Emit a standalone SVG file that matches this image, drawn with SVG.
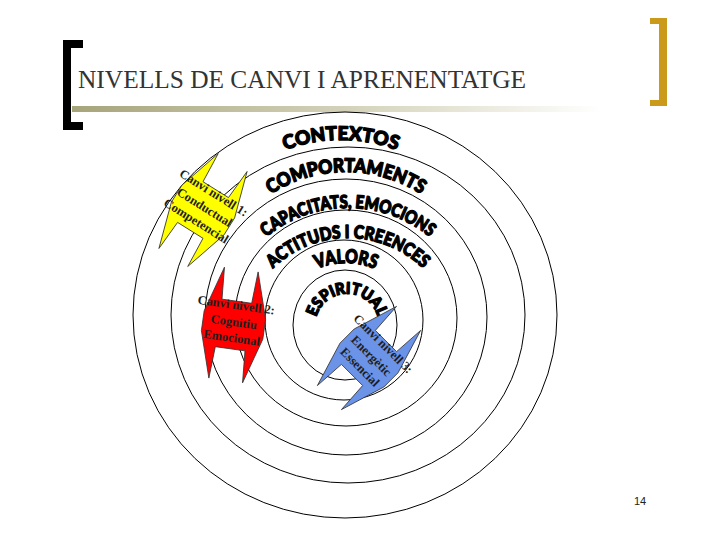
<svg xmlns="http://www.w3.org/2000/svg" xmlns:xlink="http://www.w3.org/1999/xlink" width="720" height="540" viewBox="0 0 720 540">
<defs>
<linearGradient id="bar" x1="0" y1="0" x2="1" y2="0">
<stop offset="0" stop-color="#a6a47a"/>
<stop offset="0.55" stop-color="#d6d5bd"/>
<stop offset="1" stop-color="#ffffff"/>
</linearGradient>
<polygon id="bolt" points="-17,-56 -15,-24 15,-24 17,-56 31,-10 31,10 17,56 15,24 -15,24 -17,56 -31,10 -31,-10"/>
<path id="p1" d="M261,161.4 A160,160 0 0 1 421,161.4"/>
<path id="p2" d="M257.3,204.3 A138,138 0 0 1 434.7,204.3"/>
<path id="p3" d="M248.4,254.4 A130,130 0 0 1 447.6,254.4"/>
<path id="p4" d="M254.5,292 A108,108 0 0 1 441.5,292"/>
<path id="p5" d="M297.8,280.5 A75,75 0 0 1 394.2,280.5"/>
<path id="p6" d="M315.1,323.2 A32,32 0 0 1 378.9,323.2"/>
</defs>
<style>
.ring{fill:none;stroke:#000;stroke-width:1}
.word{font-family:"Lato","DejaVu Sans",sans-serif;font-weight:900;fill:#000;stroke:#000;stroke-width:1.4;stroke-linejoin:round;text-anchor:middle}
.lbl{font-family:"Liberation Serif",serif;font-weight:bold;font-size:12.5px;fill:#1e1e1e;text-anchor:middle}
.shape{stroke:#333;stroke-width:0.8}
</style>
<rect width="720" height="540" fill="#fff"/>
<g id="header">
<rect x="72" y="106" width="530" height="6" fill="url(#bar)"/>
<path d="M63,40 H83 V48 H71 V122 H83 V130 H63 Z" fill="#000"/>
<path d="M650,18 H667 V106 H650 V100 H659 V24 H650 Z" fill="#cc9a1a"/>
<text x="78" y="88" font-family="Liberation Serif, serif" font-size="25" fill="#333" textLength="448" lengthAdjust="spacingAndGlyphs">NIVELLS DE CANVI I APRENENTATGE</text>
</g>
<g id="rings">
<ellipse class="ring" cx="345" cy="315" rx="212" ry="203"/>
<ellipse class="ring" cx="348" cy="315" rx="177" ry="168"/>
<ellipse class="ring" cx="346" cy="317" rx="141" ry="138"/>
<ellipse class="ring" cx="346" cy="318" rx="111" ry="108"/>
<ellipse class="ring" cx="344" cy="320" rx="79" ry="80"/>
<ellipse class="ring" cx="345" cy="325" rx="52" ry="55"/>
</g>
<g id="levels">
<text class="word" font-size="19"><textPath xlink:href="#p1" href="#p1" startOffset="50%" textLength="114" lengthAdjust="spacingAndGlyphs">CONTEXTOS</textPath></text>
<text class="word" font-size="19"><textPath xlink:href="#p2" href="#p2" startOffset="50%" textLength="159" lengthAdjust="spacingAndGlyphs">COMPORTAMENTS</textPath></text>
<text class="word" font-size="18"><textPath xlink:href="#p3" href="#p3" startOffset="50%" textLength="177" lengthAdjust="spacingAndGlyphs">CAPACITATS, EMOCIONS</textPath></text>
<text class="word" font-size="18"><textPath xlink:href="#p4" href="#p4" startOffset="50%" textLength="166" lengthAdjust="spacingAndGlyphs">ACTITUDS I CREENCES</textPath></text>
<text class="word" font-size="19"><textPath xlink:href="#p5" href="#p5" startOffset="50%" textLength="60" lengthAdjust="spacingAndGlyphs">VALORS</textPath></text>
<text class="word" font-size="16"><textPath xlink:href="#p6" href="#p6" startOffset="50%" textLength="83" lengthAdjust="spacingAndGlyphs">ESPIRITUAL</textPath></text>
</g>
<g id="nivell1" transform="translate(203,210) rotate(32)">
<use href="#bolt" xlink:href="#bolt" class="shape" fill="#ffff00"/>
<text class="lbl" x="0" y="-16">Canvi nivell 1:</text>
<text class="lbl" x="0" y="1">Conductual</text>
<text class="lbl" x="0" y="17">Competencial</text>
</g>
<g id="nivell2" transform="translate(233.5,325) rotate(8)">
<use href="#bolt" xlink:href="#bolt" class="shape" fill="#ff0000"/>
<text class="lbl" x="0" y="-16">Canvi nivell 2:</text>
<text class="lbl" x="0" y="1">Cognitiu</text>
<text class="lbl" x="0" y="17">Emocional</text>
</g>
<g id="nivell3" transform="translate(369,358) rotate(45)">
<use href="#bolt" xlink:href="#bolt" class="shape" fill="#6b93e8"/>
<text class="lbl" x="0" y="-16">Canvi nivell 3:</text>
<text class="lbl" x="0" y="1">Energètic</text>
<text class="lbl" x="0" y="17">Essencial</text>
</g>
<g id="connectors"/>
<text x="640" y="505" font-family="Liberation Sans, sans-serif" font-size="11" fill="#222" text-anchor="middle">14</text>
</svg>
